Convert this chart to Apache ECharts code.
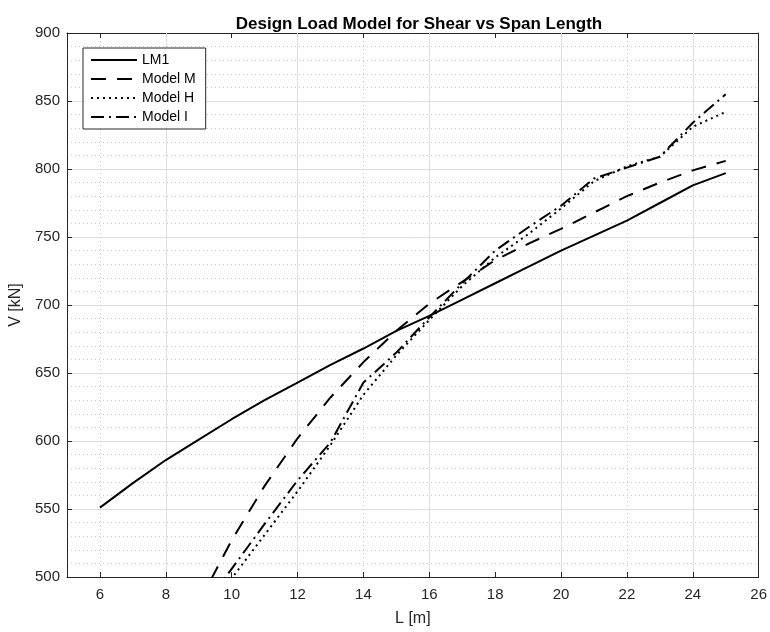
<!DOCTYPE html>
<html>
<head>
<meta charset="utf-8">
<script src="https://cdn.jsdelivr.net/npm/echarts@6/dist/echarts.min.js"></script>
<style>
  html, body { margin: 0; padding: 0; background: #fff; }
  #chart { width: 770px; height: 632px; }
</style>
</head>
<body>
<div id="chart"></div>
<script>
// span lengths [m]
const spanLM1 = [6, 7, 8, 9, 10, 11, 12, 13, 14, 15, 16, 17, 18, 19, 20, 21, 22, 23, 24, 25];
const spanModel = [9, 10, 11, 12, 13, 14, 15, 16, 17, 18, 19, 20, 21, 22, 23, 24, 25];

// shear V [kN]
const lm1 = [551, 569, 586, 601, 616, 630, 643, 656, 668, 681, 692, 704, 716, 728, 740, 751, 762, 775, 788, 797];
const modelM = [481, 527, 567, 602, 632, 658, 681, 701, 717, 733, 745, 756, 768, 780, 790, 799, 806];
const modelH = [466, 499, 531, 563, 597, 634, 663, 689, 714, 735, 752, 771, 791, 802, 809, 831, 842];
const modelI = [473, 506, 539, 571, 599, 643, 665, 691, 716, 740, 757, 773, 793, 801, 809, 834, 855];

const xTicks = [6, 8, 10, 12, 14, 16, 18, 20, 22, 24, 26];

const axisCol = '#262626';
const majorCol = '#dedede';
const minorCol = '#c8c8c8';
const font = 'Liberation Sans, Arial, Helvetica, sans-serif';

function pairs(xs, ys) {
  return xs.map((x, i) => [x, ys[i]]);
}

const chart = echarts.init(document.getElementById('chart'));

function lineSeries(name, xs, ys, type) {
  return {
    name: name,
    type: 'line',
    data: pairs(xs, ys),
    symbol: 'none',
    clip: true,
    z: 5,
    lineStyle: { color: '#000', width: 2, type: type, cap: 'butt' },
    itemStyle: { color: '#000' },
    emphasis: { disabled: true }
  };
}

const option = {
  animation: false,
  backgroundColor: '#fff',
  title: {
    text: 'Design Load Model for Shear vs Span Length',
    left: 414,
    top: 11,
    textAlign: 'center',
    textStyle: { fontFamily: font, fontSize: 17, fontWeight: 'bold', color: '#000' }
  },
  legend: {
    orient: 'vertical',
    left: 83,
    top: 48,
    itemWidth: 46,
    itemHeight: 14,
    itemGap: 5,
    padding: [5, 10, 5, 7],
    borderColor: axisCol,
    borderWidth: 1,
    backgroundColor: '#fff',
    itemStyle: { opacity: 0 },
    textStyle: { fontFamily: font, fontSize: 14, color: '#000' },
    data: ['LM1', 'Model M', 'Model H', 'Model I']
  },
  grid: { left: 67, right: 8, top: 33, bottom: 52, containLabel: false },
  xAxis: [
    {
      type: 'value',
      min: 5,
      max: 26,
      interval: 1,
      position: 'bottom',
      z: 1,
      name: 'L [m]',
      nameLocation: 'middle',
      nameGap: 34,
      nameTextStyle: { fontFamily: font, fontSize: 16, color: axisCol },
      axisLine: { show: true, onZero: false, lineStyle: { color: axisCol, width: 1 } },
      axisTick: { show: true, inside: true, length: 5, customValues: xTicks, lineStyle: { color: axisCol } },
      axisLabel: {
        customValues: xTicks,
        fontFamily: font, fontSize: 15, color: axisCol, margin: 10,
        formatter: v => (v % 2 === 0 ? String(v) : '')
      },
      splitLine: { show: true, lineStyle: { color: ['rgba(0,0,0,0)', majorCol], width: 1, type: 'solid' } }
    },
    {
      type: 'value',
      min: 5,
      max: 26,
      interval: 0.5,
      position: 'top',
      axisLine: { show: true, onZero: false, lineStyle: { color: axisCol, width: 1 } },
      axisTick: { show: true, inside: true, length: 5, customValues: xTicks, lineStyle: { color: axisCol } },
      axisLabel: { show: false },
      splitLine: { show: true, lineStyle: { color: [minorCol, minorCol, 'rgba(0,0,0,0)', minorCol], width: 1, type: [1, 3] } }
    }
  ],
  yAxis: [
    {
      type: 'value',
      min: 500,
      max: 900,
      interval: 50,
      position: 'left',
      name: 'V [kN]',
      nameLocation: 'middle',
      nameGap: 33,
      nameTextStyle: { fontFamily: font, fontSize: 16, color: axisCol },
      axisLine: { show: true, onZero: false, lineStyle: { color: axisCol, width: 1 } },
      axisTick: { show: true, inside: true, length: 5, lineStyle: { color: axisCol } },
      axisLabel: { fontFamily: font, fontSize: 15, color: axisCol, margin: 7 },
      splitLine: { show: true, lineStyle: { color: majorCol, width: 1 } },
      minorTick: { show: false, splitNumber: 5 },
      minorSplitLine: { show: true, lineStyle: { color: minorCol, width: 1, type: [1, 3] } }
    },
    {
      type: 'value',
      min: 500,
      max: 900,
      interval: 50,
      position: 'right',
      axisLine: { show: true, onZero: false, lineStyle: { color: axisCol, width: 1 } },
      axisTick: { show: true, inside: true, length: 5, lineStyle: { color: axisCol } },
      axisLabel: { show: false },
      splitLine: { show: false }
    }
  ],
  series: [
    lineSeries('LM1', spanLM1, lm1, 'solid'),
    lineSeries('Model M', spanModel, modelM, [15, 11]),
    lineSeries('Model H', spanModel, modelH, [2, 4]),
    lineSeries('Model I', spanModel, modelI, [13, 5, 2, 5])
  ]
};

chart.setOption(option);
</script>
</body>
</html>
